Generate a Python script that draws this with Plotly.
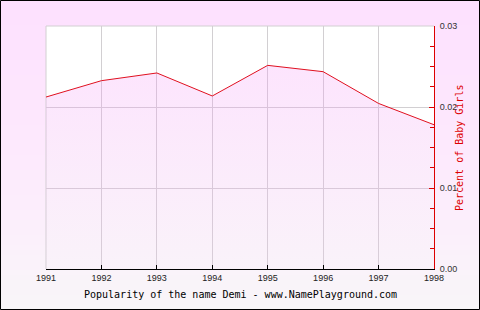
import plotly.graph_objects as go

years = [1991, 1992, 1993, 1994, 1995, 1996, 1997, 1998]
percent = [0.02123, 0.02325, 0.0242, 0.02136, 0.02514, 0.02436, 0.02044, 0.01781]
y_ticks = [0.0, 0.01, 0.02, 0.03]
y_labels = ["0.00", "0.01", "0.02", "0.03"]
title_x = "Popularity of the name Demi - www.NamePlayground.com"
title_y = "Percent of Baby Girls"

W, H = 480, 310
L, R, T, B = 46, 46, 26, 41
PW, PH = W - L - R, H - T - B


def px(X):
    return (X - L) / PW


def py(Y):
    return (H - B - Y) / PH


# background gradient stops (pixel y, rgb)
stops = [(0, (253, 224, 254)), (150, (253, 233, 253)), (240, (251, 240, 251)), (310, (248, 246, 248))]


def col(Y):
    for (y0, c0), (y1, c1) in zip(stops, stops[1:]):
        if y0 <= Y <= y1:
            t = (Y - y0) / (y1 - y0)
            c = [round(a + (b - a) * t) for a, b in zip(c0, c1)]
            return "rgb(%d,%d,%d)" % tuple(c)
    return "rgb(%d,%d,%d)" % stops[-1][1]


def rgba_over_white(Y, a=0.25):
    for (y0, c0), (y1, c1) in zip(stops, stops[1:]):
        if y0 <= Y <= y1:
            t = (Y - y0) / (y1 - y0)
            c = [a0 + (b0 - a0) * t for a0, b0 in zip(c0, c1)]
            break
    base = [max(0, round(255 - (255 - v) / a)) for v in c]
    return "rgba(%d,%d,%d,%.2f)" % (base[0], base[1], base[2], a)


shapes = []
n = 62
for i in range(n):
    y0 = H * i / n
    y1 = H * (i + 1) / n
    shapes.append(dict(type="rect", xref="paper", yref="paper", layer="below",
                       x0=px(0), x1=px(W), y0=py(y1 + 0.5), y1=py(y0),
                       fillcolor=col((y0 + y1) / 2), line=dict(width=0)))
# white plot area
shapes.append(dict(type="rect", xref="paper", yref="paper", layer="below",
                   x0=0, x1=1, y0=0, y1=1, fillcolor="white", line=dict(width=0)))
# gray plot border (top / left)
shapes.append(dict(type="line", xref="paper", yref="paper", layer="below",
                   x0=0, x1=1, y0=1, y1=1, line=dict(color="#d2cfd2", width=1)))
shapes.append(dict(type="line", xref="paper", yref="paper", layer="below",
                   x0=0, x1=0, y0=0, y1=1, line=dict(color="#d2cfd2", width=1)))
# outer border
shapes.append(dict(type="rect", xref="paper", yref="paper", layer="above",
                   x0=px(0.5), x1=px(W - 0.5), y0=py(H - 0.5), y1=py(0.5),
                   fillcolor="rgba(0,0,0,0)", line=dict(color="black", width=1)))

fig = go.Figure()
fig.add_trace(go.Scatter(
    x=years, y=percent, mode="lines",
    line=dict(color="#e0101f", width=1),
    fill="tozeroy",
    fillgradient=dict(type="vertical", start=0, stop=0.03,
                      colorscale=[[0, rgba_over_white(H - B)], [1, rgba_over_white(T)]]),
    hoverinfo="skip", showlegend=False,
))

fig.update_layout(
    width=W, height=H,
    margin=dict(l=L, r=R, t=T, b=B, pad=0),
    paper_bgcolor="white",
    plot_bgcolor="rgba(0,0,0,0)",
    shapes=shapes,
    xaxis=dict(
        range=[years[0], years[-1]], tickmode="array", tickvals=years,
        ticktext=[str(y) for y in years],
        showgrid=True, gridcolor="#d2cfd2", gridwidth=1,
        showline=True, linecolor="black", linewidth=1,
        ticks="inside", ticklen=4, tickcolor="black",
        tickfont=dict(family="Liberation Sans", size=9, color="#222"),
        zeroline=False, fixedrange=True, mirror=False,
    ),
    yaxis=dict(
        side="right", range=[0, 0.03], tickmode="array", tickvals=y_ticks,
        ticktext=y_labels, ticklabelstandoff=3,
        showgrid=True, gridcolor="#d2cfd2", gridwidth=1,
        showline=True, linecolor="#dd0000", linewidth=1,
        ticks="inside", ticklen=5, tickcolor="#dd0000",
        minor=dict(dtick=0.0025, ticks="inside", ticklen=4, tickcolor="#dd0000", showgrid=False),
        tickfont=dict(family="Liberation Sans", size=9, color="#333"),
        zeroline=False, fixedrange=True,
    ),
    annotations=[
        dict(text=title_x, xref="paper", yref="paper", x=px(W / 2), y=py(294),
             xanchor="center", yanchor="middle", showarrow=False,
             font=dict(family="DejaVu Sans Mono", size=10, color="black")),
        dict(text=title_y, xref="paper", yref="paper", x=px(459), y=py(148),
             xanchor="center", yanchor="middle", showarrow=False, textangle=-90,
             font=dict(family="DejaVu Sans Mono", size=10, color="#dd0000")),
    ],
)

fig.write_html("out.html")
